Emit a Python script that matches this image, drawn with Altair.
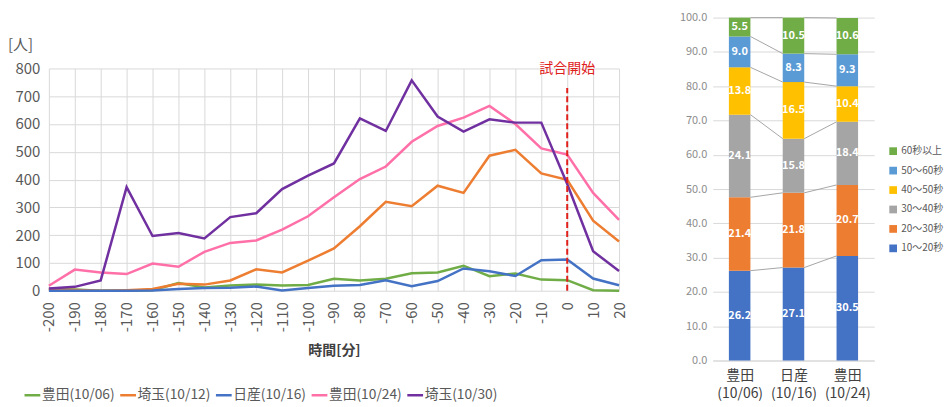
import altair as alt
import pandas as pd

FONT = "Noto Sans CJK JP"

# ---------------- left chart data ----------------
minutes = list(range(-200, 21, 10))
series_names = ["豊田(10/06)", "埼玉(10/12)", "日産(10/16)", "豊田(10/24)", "埼玉(10/30)"]
toyota_1006 = [6, 4, 0, 1, 2, 28, 12, 19, 22, 19, 21, 43, 37, 43, 63, 66, 90, 52, 62, 40, 38, 2, 0]
saitama_1012 = [4, 3, 0, 2, 6, 25, 22, 37, 77, 66, 108, 152, 232, 320, 304, 378, 352, 486, 507, 422, 399, 252, 177]
nissan_1016 = [0, 0, 0, 0, 1, 6, 10, 11, 15, 1, 10, 18, 21, 38, 16, 35, 80, 70, 53, 110, 112, 44, 20]
toyota_1024 = [18, 76, 66, 60, 98, 86, 140, 172, 181, 220, 268, 336, 402, 447, 536, 593, 623, 665, 600, 512, 490, 352, 255]
saitama_1030 = [8, 14, 37, 373, 197, 208, 188, 265, 279, 366, 414, 458, 620, 575, 757, 627, 573, 617, 605, 605, 384, 142, 71]
line_colors = ["#70AD47", "#ED7D31", "#4472C4", "#FF6FA8", "#7030A0"]
y_ticks_left = list(range(0, 801, 100))

kickoff_label = "試合開始"
kickoff_minute = 0
kickoff_top = 730
unit_label = "[人]"

# ---------------- right chart data ----------------
venues = [["豊田", "(10/06)"], ["日産", "(10/16)"], ["豊田", "(10/24)"]]
bins = ["10～20秒", "20～30秒", "30～40秒", "40～50秒", "50～60秒", "60秒以上"]
bin_colors = ["#4472C4", "#ED7D31", "#A5A5A5", "#FFC000", "#5B9BD5", "#70AD47"]
share_1006 = [26.2, 21.4, 24.1, 13.8, 9.0, 5.5]
share_1016 = [27.1, 21.8, 15.8, 16.5, 8.3, 10.5]
share_1024 = [30.5, 20.7, 18.4, 10.4, 9.3, 10.6]
shares = [share_1006, share_1016, share_1024]
y_ticks_right = list(range(0, 101, 10))

# ---------------- build tables ----------------
rows = []
for name, vals in zip(series_names, [toyota_1006, saitama_1012, nissan_1016, toyota_1024, saitama_1030]):
    for m, v in zip(minutes, vals):
        rows.append({"minute": m, "count": v, "series": name})
df_lines = pd.DataFrame(rows)

HALF = 0.2
bar_rows = []
tops = []
for i, vals in enumerate(shares):
    cum = 0.0
    t = []
    for b, v in zip(bins, vals):
        lo = cum
        cum = round(cum + v, 1)
        bar_rows.append({"idx": i, "x0": i - HALF, "x1": i + HALF, "bin": b,
                         "lo": lo, "hi": cum, "mid": (lo + cum) / 2, "label": f"{v:.1f}"})
        t.append(cum)
    tops.append(t)
df_bars = pd.DataFrame(bar_rows)

conn_rows = []
for i in range(len(shares) - 1):
    for k in range(len(bins)):
        conn_rows.append({"xa": i + HALF, "xb": i + 1 - HALF, "ya": tops[i][k], "yb": tops[i + 1][k]})
df_conn = pd.DataFrame(conn_rows)

# ---------------- left chart ----------------
xscale = alt.Scale(domain=[-200, 20], nice=False, zero=False)
yscale = alt.Scale(domain=[0, 800], nice=False)
x_axis_l = alt.Axis(values=minutes, labelAngle=270, labelExpr="'' + datum.value",
                    labelOverlap=False, title="時間[分]", grid=True, tickCount=23,
                    gridColor="#d9d9d9", domain=False, ticks=False, labelPadding=11,
                    labelFontSize=15, labelColor="#595959", titleFontSize=14,
                    titleColor="#404040", titlePadding=12, titleFontWeight="bold",
                    labelFlush=False)
y_axis_l = alt.Axis(values=y_ticks_left, title=None, grid=True, tickCount=9,
                    gridColor="#d9d9d9", domain=False, ticks=False, labelPadding=9,
                    labelFontSize=15, labelColor="#595959", labelOverlap=False)

lines = alt.Chart(df_lines).mark_line(strokeWidth=2.5).encode(
    x=alt.X("minute:Q", scale=xscale, axis=x_axis_l),
    y=alt.Y("count:Q", scale=yscale, axis=y_axis_l),
    color=alt.Color("series:N", scale=alt.Scale(domain=series_names, range=line_colors),
                    legend=alt.Legend(title=None, orient="none", legendX=-26, legendY=318,
                                      direction="horizontal", columns=5, symbolType="stroke",
                                      symbolStrokeWidth=2.5, symbolSize=250, labelFontSize=13.8,
                                      labelColor="#595959", columnPadding=0, labelOffset=0)),
)

kick_rule = alt.Chart(pd.DataFrame({"minute": [kickoff_minute], "count": [0], "y1": [kickoff_top]})).mark_rule(
    color="#E0201B", strokeDash=[6, 3], strokeWidth=2).encode(
    x=alt.X("minute:Q", scale=xscale, axis=x_axis_l),
    y=alt.Y("count:Q", scale=yscale, axis=y_axis_l), y2="y1:Q")

kick_text = alt.Chart(pd.DataFrame({"minute": [kickoff_minute], "count": [800], "t": [kickoff_label]})).mark_text(
    color="#E0201B", fontSize=14, baseline="middle", dy=1).encode(
    x=alt.X("minute:Q", scale=xscale, axis=x_axis_l),
    y=alt.Y("count:Q", scale=yscale, axis=y_axis_l), text="t:N")

unit_text = alt.Chart(pd.DataFrame({"t": [unit_label]})).mark_text(
    fontSize=15, align="left", baseline="middle", color="#595959").encode(
    x=alt.value(-41), y=alt.value(-24), text="t:N")

left = alt.layer(lines, kick_rule, kick_text, unit_text).properties(width=572, height=223)

spacer = alt.Chart(pd.DataFrame({"a": [0]})).mark_point(opacity=0, size=1).encode(
    x=alt.value(0), y=alt.value(0)).properties(width=572, height=20)

left_col = alt.vconcat(spacer, left, spacing=0).resolve_scale(color="independent")

# ---------------- right chart ----------------
bx = alt.Scale(domain=[-0.5, 2.5], nice=False, zero=False)
by = alt.Scale(domain=[0, 100], nice=False)
label_expr = " : ".join(
    [f"datum.value == {i} ? ['{a}', '{b}']" for i, (a, b) in enumerate(venues[:-1])]
    + [f"['{venues[-1][0]}', '{venues[-1][1]}']"])
x_axis_r = alt.Axis(values=[0, 1, 2], labelExpr=label_expr, title=None, grid=False, tickCount=3,
                    domain=True, domainColor="#d9d9d9", ticks=False, labelPadding=8,
                    labelFontSize=14, labelColor="#404040", labelLineHeight=18,
                    labelOverlap=False, labelFlush=False)
y_axis_r = alt.Axis(values=y_ticks_right, format=".1f", title=None, grid=True, tickCount=11,
                    gridColor="#d9d9d9", domain=False, ticks=False, labelPadding=6,
                    labelFontSize=11, labelColor="#8c8c8c", labelOverlap=False)

bars = alt.Chart(df_bars).mark_bar().encode(
    x=alt.X("x0:Q", scale=bx, axis=x_axis_r),
    x2="x1:Q",
    y=alt.Y("lo:Q", scale=by, axis=y_axis_r),
    y2="hi:Q",
    color=alt.Color("bin:N", scale=alt.Scale(domain=bins[::-1], range=bin_colors[::-1]),
                    legend=alt.Legend(title=None, orient="none", legendX=176, legendY=129,
                                      symbolType="square", symbolSize=60, labelFontSize=10,
                                      labelColor="#595959", rowPadding=9.5, labelOffset=3)),
)

conns = alt.Chart(df_conn).mark_rule(color="#a6a6a6", strokeWidth=1).encode(
    x=alt.X("xa:Q", scale=bx, axis=x_axis_r), x2="xb:Q",
    y=alt.Y("ya:Q", scale=by, axis=y_axis_r), y2="yb:Q")

bar_text = alt.Chart(df_bars).mark_text(color="white", fontWeight="bold", fontSize=11,
                                        baseline="middle").encode(
    x=alt.X("idx:Q", scale=bx, axis=x_axis_r), y=alt.Y("mid:Q", scale=by, axis=y_axis_r),
    text="label:N")

right = alt.layer(bars, conns, bar_text).properties(width=162, height=344)

chart = alt.hconcat(left_col, right, spacing=52).resolve_scale(
    color="independent", x="independent", y="independent"
).properties(
    padding={"left": 0, "top": 3, "right": 0, "bottom": 0}
).configure(font=FONT).configure_view(stroke=None)

chart.save("out.html", embed_options={"renderer": "svg", "actions": False})
